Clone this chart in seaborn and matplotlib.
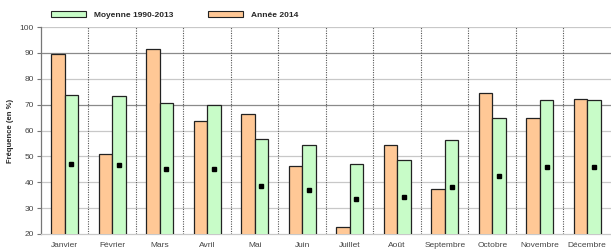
import numpy as np
import pandas as pd
import matplotlib
matplotlib.use("Agg")
import matplotlib.pyplot as plt
import seaborn as sns
from matplotlib.patches import Patch

months = ["Janvier", "Février", "Mars", "Avril", "Mai", "Juin", "Juillet",
          "Août", "Septembre", "Octobre", "Novembre", "Décembre"]
annee_2014 = [89.5, 51.0, 91.5, 63.5, 66.5, 46.4, 22.8, 54.5, 37.5, 74.4, 64.8, 72.2]
moyenne = [73.9, 73.2, 70.6, 70.0, 56.9, 54.4, 46.9, 48.6, 56.3, 64.7, 71.9, 71.9]
marqueur = [46.9, 46.5, 45.2, 45.0, 38.5, 37.0, 33.4, 34.2, 38.0, 42.4, 46.0, 46.0]

lab_2014 = "Année 2014"
lab_moy = "Moyenne 1990-2013"

df = pd.DataFrame({
    "mois": months * 2,
    "val": annee_2014 + moyenne,
    "serie": [lab_2014] * 12 + [lab_moy] * 12,
})

c_orange = "#FFC896"
c_green = "#C8FCC8"

sns.set_style("white")
plt.rcParams["font.family"] = ["Liberation Sans", "DejaVu Sans"]

fig = plt.figure(figsize=(6.11, 2.5), dpi=100)
ax = fig.add_axes([0.067, 0.064, 0.933, 0.828])

sns.barplot(data=df, x="mois", y="val", hue="serie", order=months,
            hue_order=[lab_2014, lab_moy], palette=[c_orange, c_green],
            saturation=1, width=0.57, edgecolor="#222222", linewidth=0.9,
            ax=ax, legend=False, zorder=3)

# markers centred on the green bars
green_x = [p.get_x() + p.get_width() / 2 for p in ax.patches[12:24]]
ax.plot(green_x, marqueur, linestyle="none", marker="s", markersize=2.4,
        color="black", zorder=5)

ax.set_ylim(20, 100)
ax.set_xlim(-0.5, 11.5)
ax.set_yticks(np.arange(20, 101, 10))

for y in range(30, 101, 10):
    col = "#8a8a8a" if y in (70, 90) else "#c8c8c8"
    ax.axhline(y, color=col, linewidth=0.9, zorder=1)
for xb in np.arange(0.5, 11.5, 1):
    ax.axvline(xb, color="#555555", linewidth=0.8, linestyle=(0, (1, 1.2)), zorder=1)

for s in ["top", "right"]:
    ax.spines[s].set_visible(False)
ax.spines["left"].set_color("#777777")
ax.spines["left"].set_linewidth(0.9)
ax.spines["bottom"].set_color("#c8c8c8")
ax.spines["bottom"].set_linewidth(0.9)

ax.tick_params(axis="y", left=True, length=3, width=0.8, color="#777777",
               labelsize=6, labelcolor="#444444", pad=2)
ax.tick_params(axis="x", bottom=False, labelsize=6, labelcolor="#444444", pad=2)
ax.set_xlabel("")
ax.set_ylabel("Fréquence (en %)", fontsize=5.5, fontweight="bold", labelpad=4)

handles = [Patch(facecolor=c_green, edgecolor="#222222", linewidth=0.8, label=lab_moy),
           Patch(facecolor=c_orange, edgecolor="#222222", linewidth=0.8, label=lab_2014)]
fig.legend(handles=handles, loc="center left", bbox_to_anchor=(0.072, 0.94),
           ncol=2, frameon=False, handlelength=4.2, handleheight=0.8,
           columnspacing=4.2, handletextpad=0.9,
           prop={"size": 6, "weight": "bold"})

fig.savefig("out.png", dpi=100)
